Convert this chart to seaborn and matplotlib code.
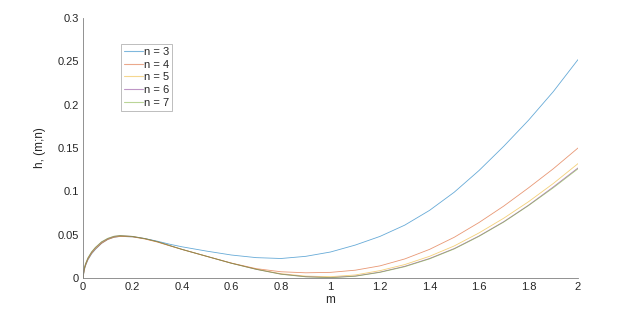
import numpy as np
import pandas as pd
import matplotlib
matplotlib.use("Agg")
import matplotlib.pyplot as plt
import seaborn as sns

m = [0, 0.005, 0.01, 0.02, 0.035, 0.05, 0.075, 0.1, 0.125, 0.15, 0.2, 0.25, 0.3, 0.35,
     0.4, 0.5, 0.6, 0.7, 0.8, 0.9, 1.0, 1.1, 1.2, 1.3, 1.4, 1.5, 1.6, 1.7, 1.8, 1.9, 2.0]

h_n3 = [0, 0.009, 0.014, 0.021, 0.028, 0.033, 0.040, 0.0445, 0.047, 0.048, 0.0475, 0.0455, 0.0425, 0.039,
        0.036, 0.031, 0.0265, 0.0235, 0.0225, 0.025, 0.030, 0.038, 0.048, 0.061, 0.078, 0.099, 0.124, 0.152, 0.182, 0.215, 0.252]
h_n4 = [0, 0.0095, 0.0145, 0.0215, 0.0285, 0.0335, 0.040, 0.0445, 0.047, 0.048, 0.0475, 0.045, 0.0415, 0.0372,
        0.033, 0.025, 0.0172, 0.0108, 0.0072, 0.006, 0.0065, 0.009, 0.014, 0.022, 0.033, 0.047, 0.064, 0.083, 0.104, 0.126, 0.150]
h_n5 = [0, 0.0105, 0.0155, 0.0225, 0.0295, 0.0345, 0.041, 0.045, 0.0475, 0.0485, 0.0478, 0.0453, 0.0418, 0.0373,
        0.033, 0.025, 0.017, 0.0102, 0.005, 0.0022, 0.0015, 0.0035, 0.0085, 0.0155, 0.025, 0.037, 0.052, 0.069, 0.088, 0.109, 0.132]
h_n6 = [0, 0.011, 0.016, 0.023, 0.030, 0.035, 0.0415, 0.0455, 0.048, 0.049, 0.048, 0.0455, 0.042, 0.0375,
        0.033, 0.025, 0.017, 0.010, 0.0045, 0.0015, 0.0005, 0.0022, 0.0068, 0.0135, 0.0225, 0.034, 0.0485, 0.065, 0.084, 0.105, 0.127]
h_n7 = [0, 0.0113, 0.0163, 0.0233, 0.0303, 0.0353, 0.0418, 0.0458, 0.0482, 0.049, 0.048, 0.0455, 0.042, 0.0375,
        0.033, 0.025, 0.017, 0.010, 0.0043, 0.0013, 0.0003, 0.002, 0.0065, 0.013, 0.022, 0.0335, 0.048, 0.0645, 0.0835, 0.104, 0.126]

series = {"n = 3": h_n3, "n = 4": h_n4, "n = 5": h_n5, "n = 6": h_n6, "n = 7": h_n7}
colors = ["#0072BD", "#D95319", "#EDB120", "#7E2F8E", "#77AC30"]

x_ticks = [0, 0.2, 0.4, 0.6, 0.8, 1, 1.2, 1.4, 1.6, 1.8, 2]
x_labels = ["0", "0.2", "0.4", "0.6", "0.8", "1", "1.2", "1.4", "1.6", "1.8", "2"]
y_ticks = [0, 0.05, 0.1, 0.15, 0.2, 0.25, 0.3]
y_labels = ["0", "0.05", "0.1", "0.15", "0.2", "0.25", "0.3"]

df = pd.concat([pd.DataFrame({"m": m, "h": v, "n": k}) for k, v in series.items()], ignore_index=True)

sns.set_style("white")
plt.rcParams["font.family"] = ["Liberation Sans", "DejaVu Sans"]
plt.rcParams["font.size"] = 8

fig = plt.figure(figsize=(6.4, 3.12), dpi=100)
ax = fig.add_axes([83 / 640, 34 / 312, 495 / 640, 260 / 312])

sns.lineplot(data=df, x="m", y="h", hue="n", palette=colors, ax=ax, linewidth=0.6,
             alpha=0.6, legend=True)

ax.set_xlim(0, 2)
ax.set_ylim(0, 0.3)
ax.set_xticks(x_ticks)
ax.set_xticklabels(x_labels)
ax.set_yticks(y_ticks)
ax.set_yticklabels(y_labels)
ax.set_xlabel("m", fontsize=8.5, color="#262626", labelpad=1)
ax.set_ylabel("h, (m;n)", fontsize=8.5, color="#262626", labelpad=8)
for s in ["top", "right"]:
    ax.spines[s].set_visible(False)
for s in ["left", "bottom"]:
    ax.spines[s].set_color("#808080")
    ax.spines[s].set_linewidth(0.6)
ax.tick_params(direction="in", length=4, width=0.6, color="#808080", labelcolor="#262626",
               labelsize=8, pad=3)

leg = ax.legend(loc="upper left", bbox_to_anchor=(38 / 495, 234 / 260), borderaxespad=0,
                frameon=True, fancybox=False, edgecolor="#a0a0a0", fontsize=8,
                handlelength=1.7, handletextpad=0.15, labelspacing=0.25, borderpad=0.25)
leg.get_frame().set_linewidth(0.6)
for line in leg.get_lines():
    line.set_linewidth(0.8)
    line.set_alpha(0.5)

fig.savefig("out.png", dpi=100, facecolor="white")
